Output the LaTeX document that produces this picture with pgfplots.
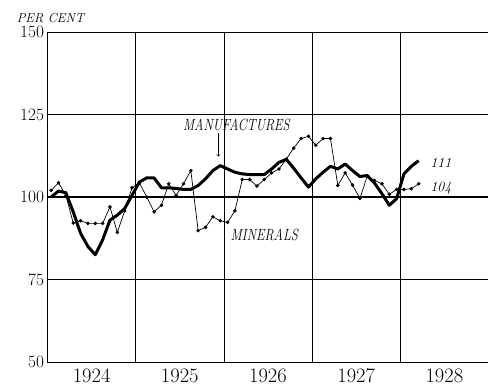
\documentclass[border=0pt]{standalone}
\usepackage{pgfplots}
\pgfplotsset{compat=1.18}
\usepackage{pgfplotstable}

\pgfplotstableread{
m val
0.5 100
1.5 101.8
2.5 101.3
3.5 95.5
4.5 89
5.5 85
6.5 82.5
7.5 87
8.5 93
9.5 94.5
10.5 96.5
11.5 100.5
12.5 104.5
13.5 105.8
14.5 105.8
15.5 102.8
16.5 102.8
17.5 102.6
18.5 102.3
19.5 102.3
20.5 103.5
21.5 105.5
22.5 108
23.5 109.5
24.5 108.5
25.5 107.5
26.5 107
27.5 106.8
28.5 106.8
29.5 106.8
30.5 108.5
31.5 110.5
32.5 111.4
33.5 108.7
34.5 105.8
35.5 103
36.5 105.5
37.5 107.5
38.5 109.3
39.5 108.5
40.5 110
41.5 108
42.5 106.2
43.5 106.5
44.5 104.2
45.5 101
46.5 97.5
47.5 99.5
48.5 107
49.5 109.3
50.5 111
}\manuf

\pgfplotstableread{
m val
0.5 102
1.5 104.3
2.5 100.5
3.5 92.1
4.5 92.8
5.5 92
6.5 92
7.5 92
8.5 97
9.5 89.3
10.5 95.8
11.5 102.8
12.5 104.3
13.5 100
14.5 95.5
15.5 97.5
16.5 104
17.5 100.5
18.5 104
19.5 108
20.5 89.8
21.5 90.8
22.5 94
23.5 92.8
24.5 92.3
25.5 95.8
26.5 105.3
27.5 105.3
28.5 103.3
29.5 105.3
30.5 107.3
31.5 108.5
32.5 111.5
33.5 114.8
34.5 117.7
35.5 118.4
36.5 115.7
37.5 117.7
38.5 117.7
39.5 103.5
40.5 107.3
41.5 103.6
42.5 99.6
43.5 106.3
44.5 105
45.5 104
46.5 100.8
47.5 102.3
48.5 102.3
49.5 102.5
50.5 104
}\miner

\begin{document}
\begin{tikzpicture}
\begin{axis}[
  name=ax,
  scale only axis,
  width=441pt, height=330pt,
  xmin=0, xmax=60, ymin=50, ymax=150,
  axis lines*=left,
  axis line style={black, line width=0.7pt},
  xtick={12,24,36,48},
  xticklabels={},
  extra x ticks={6,18,30,42,54},
  extra x tick labels={1924,1925,1926,1927,1928},
  extra x tick style={grid=none, major tick length=0pt},
  xticklabel style={font=\fontsize{20.5}{22}\selectfont, yshift=-3pt},
  ytick={50,75,125,150},
  extra y ticks={100},
  extra y tick style={major grid style={black, line width=1.3pt}},
  yticklabel style={font=\fontsize{16.5}{18}\selectfont},
  major tick length=0pt,
  grid=major,
  major grid style={black, line width=0.6pt},
  clip=false,
]
\addplot[black, line width=0.7pt, mark=*, mark size=1.4pt, mark options={solid}] table[x=m, y=val] {\miner};
\addplot[black, line width=3pt, line join=round, no marks] table[x=m, y=val] {\manuf};

\node[font=\fontsize{13.5}{15}\selectfont\itshape, xscale=0.95, yscale=1.2] at (axis cs:25.7,121.8) {MANUFACTURES};
\draw[->, line width=0.6pt] (axis cs:23.25,119.4) -- (axis cs:23.25,112.3);
\node[font=\fontsize{13.5}{15}\selectfont\itshape, xscale=0.95, yscale=1.2] at (axis cs:29.5,88.5) {MINERALS};
\node[anchor=west, font=\fontsize{14}{15}\selectfont\itshape] at (axis cs:51.6,110.3) {111};
\node[anchor=west, font=\fontsize{14}{15}\selectfont\itshape] at (axis cs:51.6,102.8) {104};
\node[font=\fontsize{13}{14}\selectfont\itshape] at ([xshift=3pt,yshift=14pt]rel axis cs:0,1) {PER CENT};
\end{axis}
\pgfresetboundingbox
\path[use as bounding box] ([xshift=-47.5pt,yshift=-25pt]ax.south west) rectangle ([xshift=440.5pt,yshift=362pt]ax.south west);
\end{tikzpicture}
\end{document}
